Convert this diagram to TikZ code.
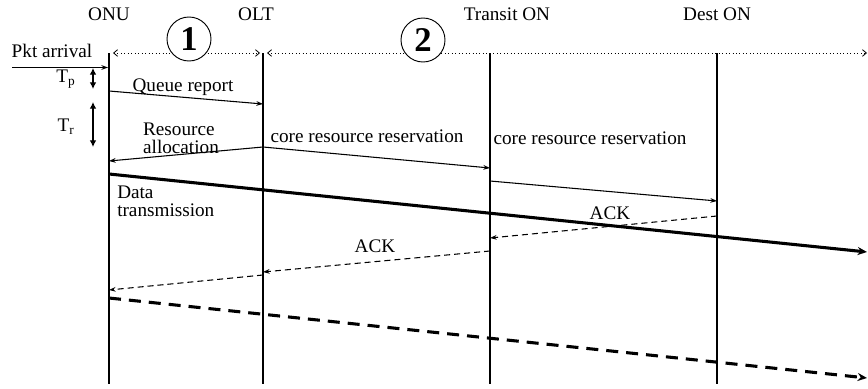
\documentclass[tikz,border=0pt]{standalone}
\usepackage{fontspec}
\setmainfont{Liberation Serif}
\usetikzlibrary{arrows.meta}

\begin{document}
\begin{tikzpicture}[x=0.75pt,y=0.75pt,yscale=-1,xscale=1,
  lbl/.style={font=\fontsize{14.4}{13.5}\selectfont, inner sep=0pt},
  life/.style={line width=1.1pt},
  msg/.style={line width=0.8pt, -{Stealth[length=5pt,width=3.5pt]}},
  ack/.style={msg, dash pattern=on 4.5pt off 3pt},
  data/.style={line width=2.3pt, -{Stealth[length=7pt,width=6pt]}},
  datadash/.style={data, dash pattern=on 9pt off 6pt},
  span/.style={dotted, line width=0.6pt, {Straight Barb[length=3pt,width=5pt]}-{Straight Barb[length=3pt,width=5pt]}},
  gap/.style={line width=0.9pt, {Latex[length=5pt,width=5pt]}-{Latex[length=5pt,width=5pt]}},
  num/.style={circle, draw, line width=0.7pt, minimum size=33pt, inner sep=0pt, font=\fontsize{26}{26}\bfseries\selectfont}]
%set diagram left start at 0, and has height of 389
\useasboundingbox (0,0) rectangle (868,389);

%Lifelines
\coordinate (onuT) at (109,53);  \coordinate (onuB) at (109,384);
\coordinate (oltT) at (263,53);  \coordinate (oltB) at (263,384);
\coordinate (trnT) at (490,53);  \coordinate (trnB) at (490,384);
\coordinate (dstT) at (717,53);  \coordinate (dstB) at (717,384);
\draw [life] (onuT) -- (onuB);
\draw [life] (oltT) -- (oltB);
\draw [life] (trnT) -- (trnB);
\draw [life] (dstT) -- (dstB);

%Headings
\node [lbl] (onu) at (109,14) {ONU};
\node [lbl] (olt) at (256,14) {OLT};
\node [lbl] (trn) at (507,14) {Transit ON};
\node [lbl] (dst) at (717,14) {Dest ON};

%Phases
\coordinate (p1a) at (113,53); \coordinate (p1b) at (260,53);
\coordinate (p2a) at (267,53); \coordinate (p2b) at (867,53);
\draw [span] (p1a) -- (p1b);
\draw [span] (p2a) -- (p2b);
\node [num, fill=white] (ph1) at (189,39) {1};
\node [num, fill=white] (ph2) at (423,40) {2};

%Packet arrival
\coordinate (pkt) at (12,67.5); \coordinate (a0) at (108,67.5);
\draw [msg] (pkt) -- (a0);
\node [lbl] (pktl) at (52,51) {Pkt arrival};

%Delays
\coordinate (tp0) at (93,68);  \coordinate (tp1) at (93,89);
\coordinate (tr0) at (93,102); \coordinate (tr1) at (93,147);
\draw [gap] (tp0) -- (tp1);
\draw [gap] (tr0) -- (tr1);
\node [lbl] (tpl) at (66,79) {T\textsubscript{p}};
\node [lbl] (trl) at (66,127) {T\textsubscript{r}};

%Queue report
\coordinate (q0) at (109,91); \coordinate (q1) at (263,104);
\draw [msg] (q0) -- (q1);
\node [lbl] (ql) at (183,87) {Queue report};

%Resource allocation
\coordinate (r0) at (263,147); \coordinate (r1) at (109,161);
\draw [msg] (r0) -- (r1);
\node [lbl, align=left] (rl) at (181,138) {Resource\\allocation};

%Core resource reservation
\coordinate (c1) at (490,168);
\coordinate (c2) at (490,181); \coordinate (c3) at (717,201);
\draw [msg] (r0) -- (c1);
\draw [msg] (c2) -- (c3);
\node [lbl] (cl1) at (367,136) {core resource reservation};
\node [lbl] (cl2) at (590,138) {core resource reservation};

%Data transmission
\coordinate (d0) at (109,174); \coordinate (d1) at (867,252);
\draw [data] (d0) -- (d1);
\node [lbl, align=left, anchor=west] (dl) at (117,201) {Data\\transmission};

%ACKs
\coordinate (k0) at (717,216); \coordinate (k1) at (490,238);
\coordinate (k2) at (490,251); \coordinate (k3) at (263,272);
\coordinate (k4) at (263,275); \coordinate (k5) at (109,290);
\draw [ack] (k0) -- (k1);
\draw [ack] (k2) -- (k3);
\draw [ack] (k4) -- (k5);
\node [lbl] (kl1) at (610,213) {ACK};
\node [lbl] (kl2) at (375,246) {ACK};

%Next data
\coordinate (e0) at (109,298); \coordinate (e1) at (867,378);
\draw [datadash] (e0) -- (e1);

\end{tikzpicture}
\end{document}
